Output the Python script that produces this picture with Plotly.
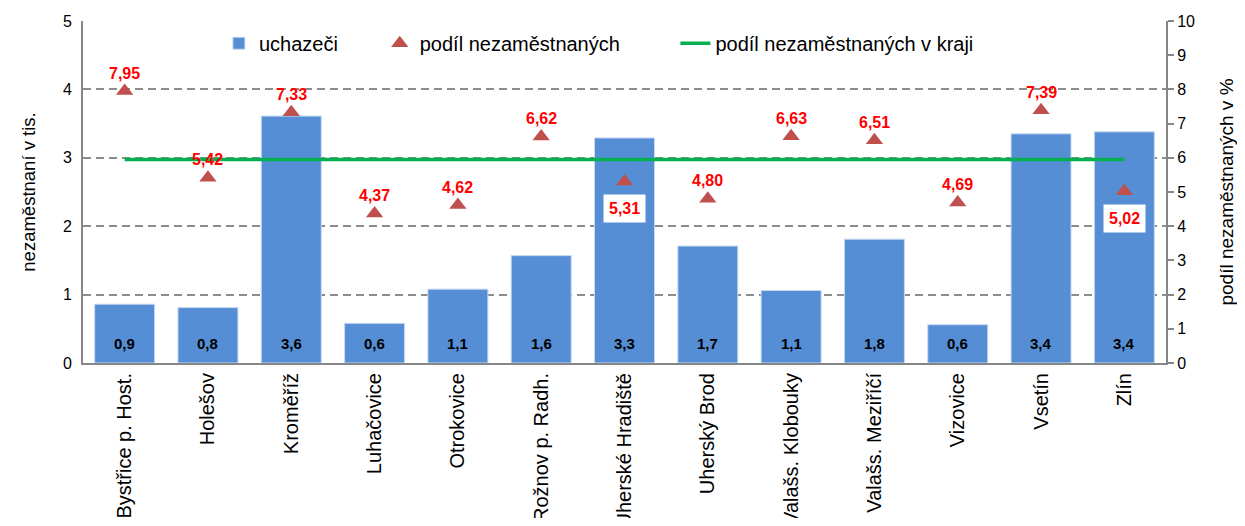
import plotly.graph_objects as go

categories = ["Bystřice p. Host.", "Holešov", "Kroměříž", "Luhačovice", "Otrokovice",
              "Rožnov p. Radh.", "Uherské Hradiště", "Uherský Brod", "Valašs. Klobouky",
              "Valašs. Meziříčí", "Vizovice", "Vsetín", "Zlín"]
uchazeci = [0.86, 0.81, 3.61, 0.58, 1.08, 1.57, 3.29, 1.71, 1.06, 1.81, 0.56, 3.35, 3.38]
podil = [7.95, 5.42, 7.33, 4.37, 4.62, 6.62, 5.31, 4.80, 6.63, 6.51, 4.69, 7.39, 5.02]
podil_kraj = [5.95] * len(categories)
boxed = ["Uherské Hradiště", "Zlín"]

FONT = "Liberation Sans, Arial, sans-serif"

def cz(v, d):
    return f"{v:.{d}f}".replace(".", ",")

fig = go.Figure()
fig.add_trace(go.Bar(
    x=categories, y=uchazeci, name="uchazeči",
    marker=dict(color="#558ED5", line=dict(color="#C6D9F1", width=1)),
    yaxis="y", legend="legend",
))
fig.add_trace(go.Scatter(
    x=categories, y=podil, name="podíl nezaměstnaných", mode="markers",
    marker=dict(symbol="triangle-up", size=15, color="#C0504D"),
    yaxis="y2", legend="legend2",
))
fig.add_trace(go.Scatter(
    x=categories, y=podil_kraj, name="podíl nezaměstnaných v kraji", mode="lines",
    line=dict(color="#00B050", width=3.5),
    yaxis="y2", legend="legend3",
))

annotations = []
for c, v in zip(categories, uchazeci):
    annotations.append(dict(x=c, y=0, xref="x", yref="y", text="<b>" + cz(v, 1) + "</b>",
                            showarrow=False, yanchor="bottom", yshift=9,
                            font=dict(family=FONT, size=15, color="black")))
for c, v in zip(categories, podil):
    if c in boxed:
        annotations.append(dict(x=c, y=v, xref="x", yref="y2", text="<b>" + cz(v, 2) + "</b>",
                                showarrow=False, yshift=-27, bgcolor="white", borderpad=5,
                                font=dict(family=FONT, size=16, color="#FF0000")))
    else:
        annotations.append(dict(x=c, y=v, xref="x", yref="y2", text="<b>" + cz(v, 2) + "</b>",
                                showarrow=False, yshift=18,
                                font=dict(family=FONT, size=16, color="#FF0000")))

leg_common = dict(orientation="h", yanchor="middle", xanchor="left", y=0.935,
                  font=dict(family=FONT, size=20), bgcolor="rgba(0,0,0,0)")

fig.update_layout(
    width=1229, height=510,
    margin=dict(l=75, r=71, t=13, b=155),
    paper_bgcolor="white", plot_bgcolor="white",
    font=dict(family=FONT, size=16, color="black"),
    bargap=0.28,
    showlegend=True,
    legend=dict(x=0.1255, **leg_common),
    legend2=dict(x=0.274, **leg_common),
    legend3=dict(x=0.547, **leg_common),
    xaxis=dict(type="category", range=[-0.5, len(categories) - 0.5], tickangle=-90,
               showline=True, linecolor="#868686", linewidth=2,
               ticks="", tickfont=dict(family=FONT, size=20), automargin=False, showgrid=False),
    yaxis=dict(range=[0, 5], dtick=1, showline=True, linecolor="#868686", linewidth=2,
               showgrid=True, gridcolor="#8C8C8C", griddash="8px,5px", gridwidth=1.5,
               zeroline=False, ticks="", tickfont=dict(family=FONT, size=16),
               ticklabelstandoff=6,
               title=dict(text="nezaměstnaní v tis.", font=dict(family=FONT, size=18.5), standoff=22),
               automargin=False),
    yaxis2=dict(range=[0, 10], dtick=1, overlaying="y", side="right", showline=True,
                linecolor="#868686", linewidth=2, showgrid=False, zeroline=False,
                ticks="outside", ticklen=6, tickcolor="#868686", tickwidth=1.5,
                tickfont=dict(family=FONT, size=16),
                title=dict(text="podíl nezaměstnaných v %", font=dict(family=FONT, size=19), standoff=26),
                automargin=False),
    annotations=annotations,
)
fig.write_html("out.html")
